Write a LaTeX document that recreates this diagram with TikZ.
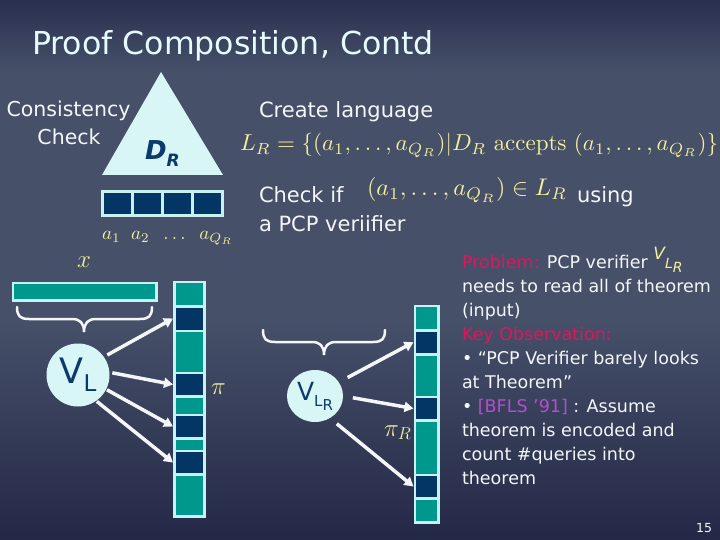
\documentclass[tikz,border=0pt]{standalone}
\usepackage[no-math]{fontspec}
\setmainfont{DejaVu Sans}
\usepackage{graphicx}
\usetikzlibrary{arrows.meta,shapes.geometric}
\definecolor{bgtop}{HTML}{2A3050}
\definecolor{bgmid}{HTML}{465069}
\definecolor{bgbot}{HTML}{232846}
\definecolor{titlec}{HTML}{E6FBFF}
\definecolor{txt}{HTML}{F4F6F8}
\definecolor{yel}{HTML}{F4F09C}
\definecolor{lcyan}{HTML}{D8F6F6}
\definecolor{bordc}{HTML}{C8F2F2}
\definecolor{tealc}{HTML}{00978C}
\definecolor{navy}{HTML}{033565}
\definecolor{ink}{HTML}{0C3A6C}
\definecolor{probred}{HTML}{E0155C}
\definecolor{bflsc}{HTML}{B050CC}
\newcommand{\setfs}[1]{\fontsize{#1}{#1}\selectfont}
\begin{document}
\begin{tikzpicture}[x=1pt,y=-1pt,
  every node/.style={inner sep=0pt, outer sep=0pt},
  lbl/.style={text=txt, anchor=base west},
  mathlbl/.style={text=yel, anchor=base west},
  rt/.style={text=txt, anchor=base west, font=\setfs{17.5}},
  cellL/.style={anchor=north west, minimum width=27pt},
  cellR/.style={anchor=north west, minimum width=21pt},
  boxc/.style={anchor=north west, minimum width=27pt, minimum height=20.5pt, fill=navy},
  arr/.style={draw=txt, line width=3.5pt, -{Triangle[length=9pt,width=10pt]}},
  brc/.style={draw=txt, line width=2.5pt, line cap=round},
  ]
\useasboundingbox (0,0) rectangle (720,540);
% background
\shade[top color=bgtop, bottom color=bgmid] (0,0) rectangle (720,71);
\fill[bgmid] (0,70) rectangle (720,321);
\shade[top color=bgmid, bottom color=bgbot] (0,320) rectangle (720,540);

% title
\node[anchor=base west, text=titlec, font=\setfs{31.6}] (title) at (32,55) {Proof Composition, Contd};

% consistency check
\node[text=txt, anchor=base, font=\setfs{20.5}] (cons1) at (68.5,117) {Consistency};
\node[text=txt, anchor=base, font=\setfs{20.5}] (cons2) at (69,145) {Check};

% triangle D_R
\fill[lcyan] (161,72) -- (102,175) -- (223,175) -- cycle;
\node[anchor=base west, text=ink, font=\setfs{26}\bfseries\itshape] (dr) at (145,160) {D\raisebox{-7pt}{\setfs{17}R}};

% row of answers
\node[fill=bordc, anchor=north west, minimum width=123pt, minimum height=26.5pt] (row) at (100.5,190.5) {};
\node[boxc] (b1) at (103.5,193.5) {};
\node[boxc] (b2) at (133.5,193.5) {};
\node[boxc] (b3) at (163.5,193.5) {};
\node[boxc] (b4) at (193.5,193.5) {};
\node[mathlbl] (alab) at (102,240) {\resizebox{131pt}{!}{$a_1\;\;a_2\;\;\ldots\;\;a_{Q_R}$}};

% x bar
\node[mathlbl, font=\setfs{33}] (xl) at (77,267) {$x$};
\node[fill=bordc, anchor=north west, minimum width=146pt, minimum height=20pt] (barb) at (11.5,281.5) {};
\node[fill=tealc, anchor=north west, minimum width=141pt, minimum height=15pt] (bar) at (14,284) {};

% brace 1
\draw[brc] (17,307) .. controls (17,316) and (20,319) .. (29,319) -- (72,319) .. controls (80,319) and (84,323) .. (84,332) .. controls (84,323) and (88,319) .. (96,319) -- (140,319) .. controls (149,319) and (152,316) .. (152,307);

% V_L
\node[circle, fill=lcyan, minimum size=63pt, text=ink] (vl) at (78,375) {\setfs{35}V\raisebox{-8pt}{\setfs{23}L}};

% proof pi
\node[fill=bordc, anchor=north west, minimum width=33pt, minimum height=237pt] (lcol) at (173,280.5) {};
\node[cellL, fill=tealc, minimum height=22pt] (p1) at (176,283) {};
\node[cellL, fill=navy, minimum height=22pt] (p2) at (176,307.5) {};
\node[cellL, fill=tealc, minimum height=39.5pt] (p3) at (176,332) {};
\node[cellL, fill=navy, minimum height=21pt] (p4) at (176,374) {};
\node[cellL, fill=tealc, minimum height=16pt] (p5) at (176,397.5) {};
\node[cellL, fill=navy, minimum height=21pt] (p6) at (176,416) {};
\node[cellL, fill=tealc, minimum height=10pt] (p7) at (176,439.5) {};
\node[cellL, fill=navy, minimum height=21pt] (p8) at (176,452) {};
\node[cellL, fill=tealc, minimum height=39.5pt] (p9) at (176,475.5) {};
\node[mathlbl, font=\setfs{30}] (pil) at (211,394) {$\pi$};

\draw[arr, shorten <=4pt] (vl.35) -- (p2.west -| lcol.west);
\draw[arr, shorten <=3pt] (vl.5) -- (p4.west -| lcol.west);
\draw[arr, shorten <=1pt] (vl.-27) -- (p6.west -| lcol.west);
\draw[arr, shorten <=1pt] (vl.-55) -- (p8.west -| lcol.west);

% right side texts
\node[lbl, font=\setfs{21}] (create) at (259,118) {Create language};
\node[mathlbl] (lang) at (240,151) {\resizebox{478pt}{!}{$L_R=\{(a_1,\ldots,a_{Q_R})|D_R\ \mathrm{accepts}\ (a_1,\ldots,a_{Q_R})\}$}};
\node[lbl, font=\setfs{21}] (checkif) at (259,203) {Check if};
\node[mathlbl] (inlr) at (367,196) {\resizebox{200pt}{!}{$(a_1,\ldots,a_{Q_R})\in L_R$}};
\node[lbl, font=\setfs{21}] (using) at (577,203) {using};
\node[lbl, font=\setfs{21}] (apcp) at (259,232) {a PCP veriifier};

% brace 2
\draw[brc] (263,330) .. controls (263,339) and (266,342) .. (275,342) -- (312,342) .. controls (320,342) and (324,346) .. (324,355) .. controls (324,346) and (328,342) .. (336,342) -- (373,342) .. controls (382,342) and (385,339) .. (385,330);

% V_LR
\node[ellipse, fill=lcyan, minimum width=56pt, minimum height=52pt, text=ink] (vlr) at (315,396) {\setfs{25}V\raisebox{-6pt}{\setfs{15}L\raisebox{-4pt}{R}}};

% proof pi_R
\node[fill=bordc, anchor=north west, minimum width=26pt, minimum height=219pt] (rcol) at (413.5,304.5) {};
\node[cellR, fill=tealc, minimum height=22pt] (q1) at (416,307) {};
\node[cellR, fill=navy, minimum height=21.5pt] (q2) at (416,331.5) {};
\node[cellR, fill=tealc, minimum height=40pt] (q3) at (416,355.5) {};
\node[cellR, fill=navy, minimum height=21pt] (q4) at (416,398) {};
\node[cellR, fill=tealc, minimum height=52pt] (q5) at (416,421.5) {};
\node[cellR, fill=navy, minimum height=21pt] (q6) at (416,476) {};
\node[cellR, fill=tealc, minimum height=21.5pt] (q7) at (416,499.5) {};
\node[mathlbl, font=\setfs{23}] (pirl) at (384,436) {$\pi_R$};

\draw[arr, shorten <=10pt] (vlr.30) -- (q2.west -| rcol.west);
\draw[arr, shorten <=10pt] (vlr.0) -- (q4.west -| rcol.west);
\draw[arr, shorten <=9pt] (vlr.-56) -- (q6.west -| rcol.west);

% right text block
\node[rt] (t1) at (462,268) {{\color{probred}Problem:} PCP verifier {\color{yel}\itshape\raisebox{9pt}{\setfs{17}V}\setfs{14}L\raisebox{-5pt}{R}}};
\node[rt] (t2) at (462,292) {needs to read all of theorem};
\node[rt] (t3) at (462,316) {(input)};
\node[rt] (t4) at (462,340) {{\color{probred}Key Observation:}};
\node[rt] (t5) at (462,364) {• “PCP Verifier barely looks};
\node[rt] (t6) at (462,388) {at Theorem”};
\node[rt] (t7) at (462,412) {• {\color{bflsc}[BFLS ’91]} : Assume};
\node[rt] (t8) at (462,436) {theorem is encoded and};
\node[rt] (t9) at (462,460) {count \#queries into};
\node[rt] (t10) at (462,484) {theorem};

\node[anchor=base east, text=txt, font=\setfs{12.5}] (pg) at (712,532) {15};
\end{tikzpicture}
\end{document}
